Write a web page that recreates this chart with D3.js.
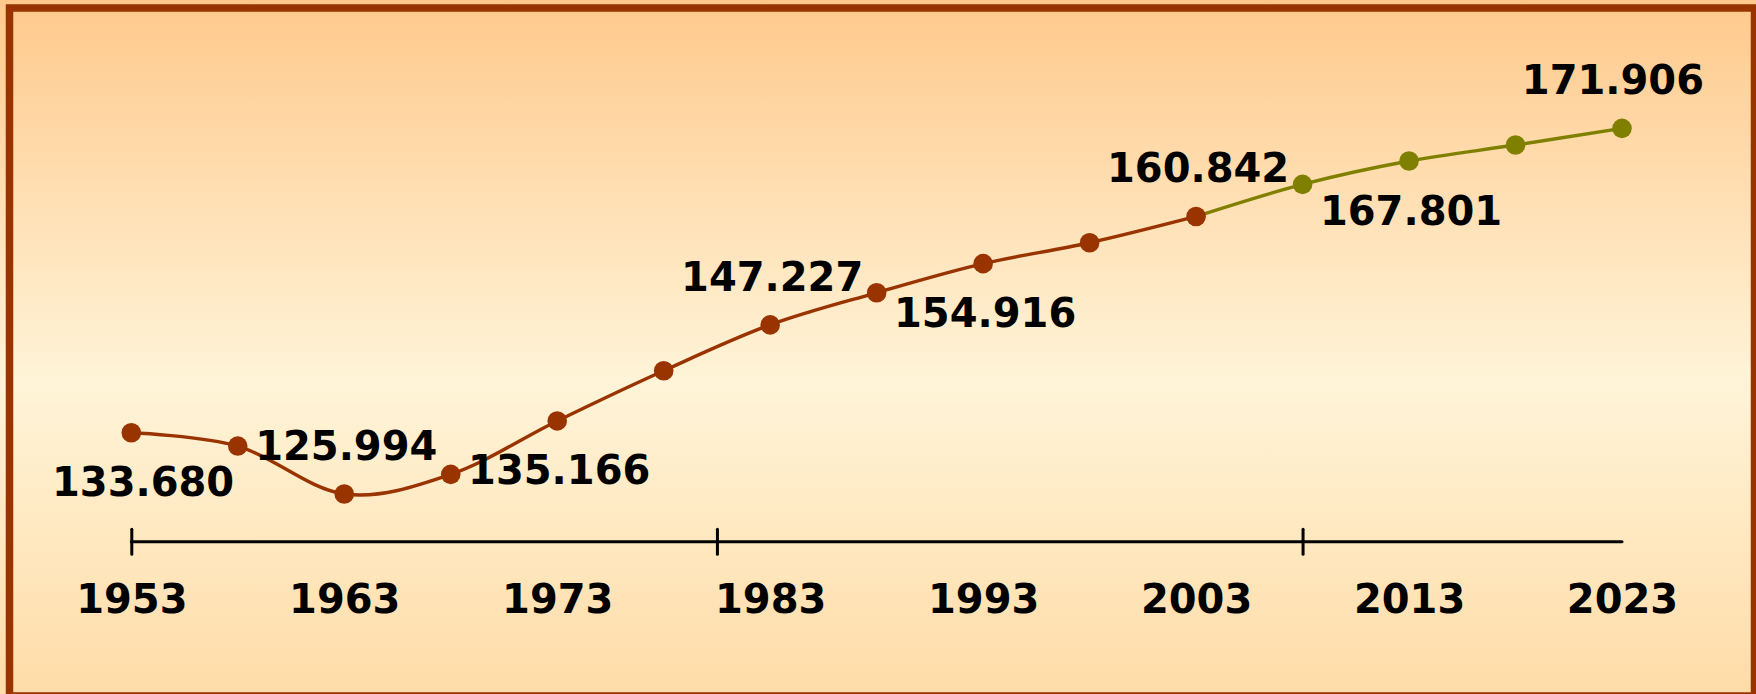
<!DOCTYPE html>
<html>
<head>
    <meta charset="utf-8">
    <title>1953-2023</title>
    <script src="https://d3js.org/d3.v7.min.js"></script>
    <style>
        body {
            margin: 0;
            background: #fff;
        }
        svg {
            display: block;
        }
        .lbl, .axis-year text {
            font-family: "DejaVu Sans", Verdana, sans-serif;
            font-weight: bold;
            font-size: 40px;
            fill: #000;
        }
    </style>
</head>
<body>
    <svg id="chart" width="1756" height="694"></svg>

    <script>
        // 数据：每五年一个点
        const years = [1953, 1958, 1963, 1968, 1973, 1978, 1983, 1988, 1993, 1998, 2003, 2008, 2013, 2018, 2023];
        const values = [133.680, 132.01, 125.994, 128.46, 135.166, 141.47, 147.227, 151.26,
                        154.916, 157.54, 160.842, 164.87, 167.801, 169.81, 171.906];
        // 棕色段与绿色段的分界年份
        const splitYear = 2003;
        // 标注数值的年份，及x轴标签
        const labelYears = [1953, 1963, 1973, 1983, 1993, 2003, 2013, 2023];
        // x轴刻度线
        const axisTicks = [1953, 1980.5, 2008];

        const W = 1756, H = 694;
        const brown = "#993300", olive = "#808000";

        const svg = d3.select("#chart");

        // 背景渐变
        const defs = svg.append("defs");
        const grad = defs.append("linearGradient")
            .attr("id", "bg").attr("x1", 0).attr("y1", 0).attr("x2", 0).attr("y2", 1);
        grad.append("stop").attr("offset", "0%").attr("stop-color", "#ffc98c");
        grad.append("stop").attr("offset", "55%").attr("stop-color", "#fff4d8");
        grad.append("stop").attr("offset", "100%").attr("stop-color", "#ffdca8");

        svg.append("rect")
            .attr("width", W).attr("height", H)
            .attr("fill", "url(#bg)");

        // 边框
        svg.append("rect")
            .attr("x", 9.5).attr("y", 8)
            .attr("width", 1745).attr("height", 688)
            .attr("fill", "none")
            .attr("stroke", brown)
            .attr("stroke-width", 7.5);

        const x = d3.scaleLinear().domain([1953, 2023]).range([131.3, 1622]);
        const y = d3.scaleLinear().domain([120, 180]).range([541.7, 63.9]);

        const pts = years.map((yr, i) => ({year: yr, value: values[i]}));
        const part1 = pts.filter(d => d.year <= splitYear);
        const part2 = pts.filter(d => d.year >= splitYear);

        // x轴：横线和刻度
        const axisG = svg.append("g")
            .attr("transform", `translate(0,${y(120)})`)
            .call(d3.axisBottom(x).tickValues(axisTicks).tickSize(12.5).tickFormat(""));
        axisG.select(".domain").remove();
        axisG.insert("line", ":first-child")
            .attr("x1", x(1953)).attr("x2", x(2023))
            .attr("stroke", "#000").attr("stroke-width", 3)
            .attr("stroke-linecap", "round");
        axisG.selectAll(".tick line")
            .attr("y1", -12.5).attr("y2", 12.5)
            .attr("stroke", "#000").attr("stroke-width", 3)
            .attr("stroke-linecap", "round");

        // x轴年份标签
        const yearAxis = svg.append("g")
            .attr("class", "axis-year")
            .attr("transform", `translate(0,${y(120)})`)
            .call(d3.axisBottom(x).tickValues(labelYears).tickSize(0).tickPadding(42.6).tickFormat(d3.format("d")));
        yearAxis.select(".domain").remove();
        yearAxis.selectAll("text").attr("font-family", null).attr("font-size", null);

        // 折线（平滑）
        const line = d3.line()
            .x(d => x(d.year))
            .y(d => y(d.value))
            .curve(d3.curveCardinal.tension(0));

        svg.append("path").datum(part2)
            .attr("d", line)
            .attr("fill", "none").attr("stroke", olive).attr("stroke-width", 3.4);
        svg.append("path").datum(part1)
            .attr("d", line)
            .attr("fill", "none").attr("stroke", brown).attr("stroke-width", 3.4);

        // 数据点
        svg.selectAll(".dot")
            .data(pts)
            .enter()
            .append("circle")
            .attr("class", "dot")
            .attr("cx", d => x(d.year))
            .attr("cy", d => y(d.value))
            .attr("r", 9.8)
            .attr("fill", d => d.year <= splitYear ? brown : olive);

        // 数值标注，上下交替，并限制在绘图区内
        const labeled = pts.filter(d => labelYears.includes(d.year));
        const lbls = svg.selectAll(".lbl")
            .data(labeled)
            .enter()
            .append("text")
            .attr("class", "lbl")
            .attr("text-anchor", "middle")
            .attr("y", (d, i) => i % 2 === 0 ? y(d.value) + 63.5 : y(d.value) - 34)
            .text(d => d.value.toFixed(3));

        lbls.each(function(d) {
            const w = this.getComputedTextLength();
            let cx = x(d.year) + 2;
            cx = Math.max(52 + w / 2, Math.min(1704 - w / 2, cx));
            d3.select(this).attr("x", cx);
        });
    </script>
</body>
</html>
